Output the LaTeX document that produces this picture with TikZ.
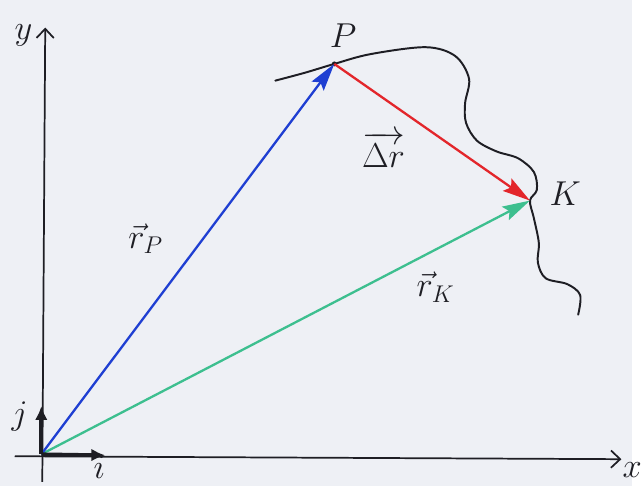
\RequirePackage{fix-cm}
\documentclass[tikz,border=0pt]{standalone}
\usetikzlibrary{arrows.meta}
\definecolor{cPaper}{HTML}{EEF0F5}
\definecolor{cInk}{HTML}{1E1E24}
\definecolor{cRP}{HTML}{1F3FD2}
\definecolor{cDR}{HTML}{E3262B}
\definecolor{cRK}{HTML}{3DBF8F}

\begin{document}
\begin{tikzpicture}[
    x=0.03cm, y=-0.03cm,
    axis/.style={line width=1.5pt, cInk, -{Straight Barb[length=8pt,width=15pt,line width=1.5pt]}},
    unit/.style={line width=3.2pt, cInk, -{Latex[length=12pt,width=11pt]}},
    vec/.style={line width=2pt, draw=#1, -{Stealth[length=24pt,width=13pt,inset=4pt]}},
    lbl/.style={font=\fontsize{30}{32}\selectfont, text=cInk, inner sep=1pt},
    traj/.style={line width=1.7pt, cInk, line cap=round},
]

% paper
\fill[cPaper] (0,0) rectangle (643,494);

% points
\coordinate (O) at (42,462);
\coordinate (P) at (340,65);
\coordinate (K) at (539,204);
\coordinate (xs) at (15,464);
\coordinate (xe) at (632,467);
\coordinate (ys) at (43,490);
\coordinate (ye) at (46,28);
\coordinate (ie) at (107,463);
\coordinate (je) at (42,413);

% axes
\draw[axis] (ys) -- (ye);
\draw[axis] (xs) -- (xe);
\node[lbl] (ylab) at (24,36) {$y$};
\node[lbl] (xlab) at (643,478) {$x$};

% trajectory
\draw[traj] plot[smooth, tension=0.55] coordinates {(280,82) (310,74) (P) (377,55) (433,48) (463,57) (477,80) (473,105) (474,125) (485,143) (505,154) (527,161) (543,175) (546,193) (K) (543,222) (548,247) (547,267) (555,283) (577,289) (590,300) (588,320)};
\fill[cInk] (P) circle (2.5);
\node[lbl] (plab) at (349,36) {$P$};
\node[lbl] (klab) at (575,197) {$K$};

% position vectors
\draw[vec=cRK] (O) -- (K);
\draw[vec=cRP] (O) -- (P);
\draw[vec=cDR] (P) -- (K);
\node[lbl] (rplab) at (148,243) {$\vec{r}_{P}$};
\node[lbl] (drlab) at (390,152) {$\overrightarrow{\Delta r}$};
\node[lbl] (rklab) at (443,292) {$\vec{r}_{K}$};

% unit vectors
\draw[unit] (O) -- (je);
\draw[unit] (O) -- (ie);
\node[lbl] (jlab) at (20,424) {$j$};
\node[lbl] (ilab) at (101,475) {$i$};

\end{tikzpicture}
\end{document}
